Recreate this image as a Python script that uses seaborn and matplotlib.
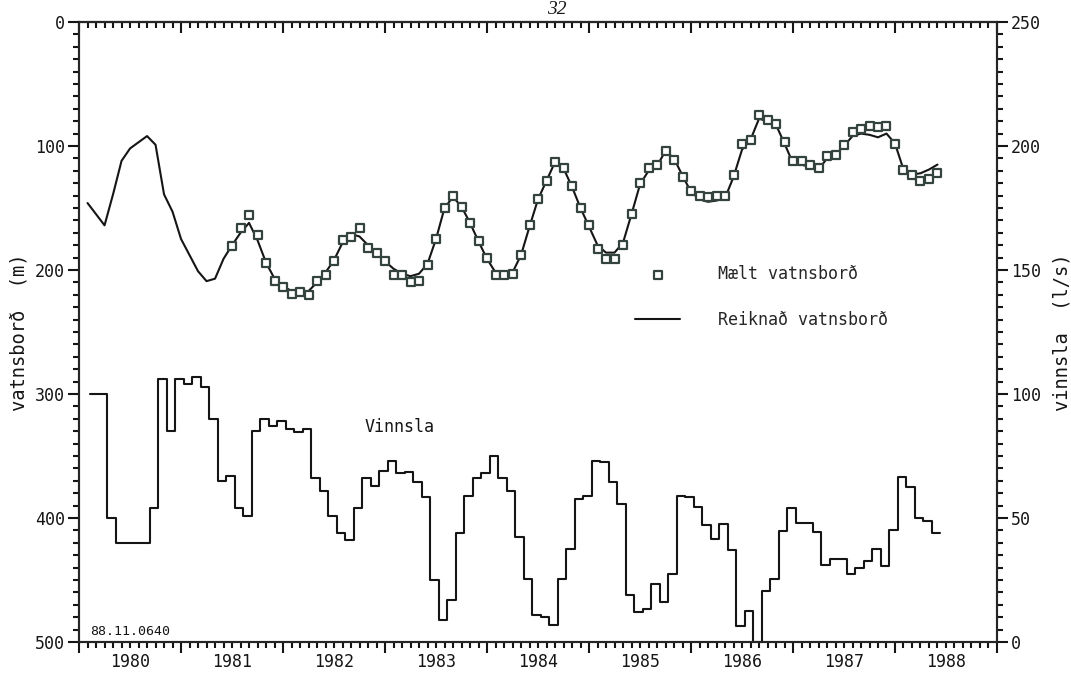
import numpy as np
import pandas as pd
import matplotlib
matplotlib.use('Agg')
import matplotlib.pyplot as plt
import seaborn as sns
from matplotlib.ticker import MultipleLocator

# Manudir taldir fra januar 1980
maelt_manudir = list(range(18, 102))
maelt_vatnsbord = [181, 166, 156, 172, 194, 209, 214, 219, 218, 220,
                   209, 204, 193, 176, 173, 166, 182, 186, 193, 204,
                   204, 210, 209, 196, 175, 150, 140, 149, 162, 177,
                   190, 204, 204, 203, 188, 164, 143, 128, 113, 118,
                   132, 150, 164, 183, 191, 191, 180, 155, 130, 118,
                   115, 104, 111, 125, 136, 140, 141, 140, 140, 123,
                   98, 95, 75, 79, 82, 97, 112, 112, 115, 118,
                   108, 107, 99, 89, 86, 84, 85, 84, 98, 119,
                   123, 128, 127, 122]

reiknad_manudir = list(range(1, 102))
reiknad_vatnsbord = [146, 155, 164, 139, 112, 102, 97, 92, 99, 139,
                     153, 175, 188, 201, 209, 207, 191, 180, 170, 162,
                     176, 194, 207, 213, 217, 218, 217, 210, 202, 192,
                     178, 171, 173, 180, 187, 193, 199, 203, 205, 203,
                     195, 175, 150, 141, 149, 162, 177, 191, 202, 205,
                     202, 188, 165, 143, 128, 113, 118, 133, 150, 165,
                     180, 186, 186, 178, 155, 131, 120, 116, 104, 110,
                     124, 137, 143, 145, 144, 142, 125, 103, 95, 78,
                     80, 83, 98, 114, 115, 117, 119, 110, 107, 100,
                     92, 90, 91, 93, 90, 98, 119, 123, 122, 119,
                     115]

# manadarleg vinnsla (l/s), hver tala gildir i einn manud
vinnsla_manudir = list(range(1, 101))
vinnsla = [100, 100, 50, 40, 40, 40, 40, 54, 106, 85,
           106, 104, 107, 103, 90, 65, 67, 54, 51, 85,
           90, 87, 89, 86, 84.5, 86, 66, 61, 51, 44,
           41, 54, 66, 63, 69, 73, 68, 68.5, 64.5, 58.5,
           25, 9, 17, 44, 59, 66, 68, 75, 66, 61,
           42.5, 25.5, 11, 10, 7, 25.5, 37.5, 57.5, 59, 73,
           72.5, 64.5, 55.5, 19, 12, 13.3, 23.4, 16.3, 27.4, 59,
           58.3, 54.4, 47, 41.5, 47.5, 37, 6.5, 12.5, 0, 20.6,
           25.4, 44.8, 53.9, 47.9, 47.9, 44.4, 31, 33.5, 33.5, 27.3,
           29.7, 32.7, 37.4, 30.6, 45.2, 66.7, 62.4, 49.9, 48.8, 44.1]
vinnsla_hlidrun = 0.3  # manudir byrja adeins eftir manadamotum

ar = list(range(1980, 1989))

df_maelt = pd.DataFrame({'t': 1980 + np.array(maelt_manudir) / 12, 'h': maelt_vatnsbord})
df_reikn = pd.DataFrame({'t': 1980 + np.array(reiknad_manudir) / 12, 'h': reiknad_vatnsbord})
t_v = list(vinnsla_manudir) + [vinnsla_manudir[-1] + 1]
df_vinn = pd.DataFrame({'t': 1980 + (np.array(t_v) + vinnsla_hlidrun) / 12,
                        'q': vinnsla + [vinnsla[-1]]})

sns.set_style('ticks')
plt.rcParams['font.family'] = ['DejaVu Sans Mono', 'DejaVu Sans']
plt.rcParams['axes.linewidth'] = 1.5

lit = '#151515'
punkt = '#34433d'

fig = plt.figure(figsize=(10.71, 6.89), dpi=100)
ax = fig.add_axes([0.0738, 0.0682, 0.8571, 0.8999])

sns.lineplot(data=df_reikn, x='t', y='h', ax=ax, color=lit, linewidth=1.5,
             estimator=None, sort=False, label='Reiknað vatnsborð')
sns.scatterplot(data=df_maelt, x='t', y='h', ax=ax, marker='s', s=30,
                facecolor='white', edgecolor=punkt, linewidth=1.6,
                label='Mælt vatnsborð', zorder=3)

ax.set_xlim(1980, 1989)
ax.set_ylim(500, 0)
ax.yaxis.set_major_locator(MultipleLocator(100))
ax.yaxis.set_minor_locator(MultipleLocator(10))
ax.xaxis.set_major_locator(MultipleLocator(1))
ax.xaxis.set_minor_locator(MultipleLocator(1 / 12))
ax.tick_params(axis='both', which='major', direction='out', length=8, width=1.5,
               labelsize=12, pad=2, colors=lit)
ax.tick_params(axis='both', which='minor', direction='out', length=4.5, width=1.5, colors=lit)
ax.tick_params(axis='x', labelbottom=False)
ax.set_xlabel('')
ax.set_ylabel('vatnsborð  (m)', fontsize=13.5, color=lit)
ax.yaxis.set_label_coords(-0.055, 0.5)

# efri as: strik inn a vid
sec_top = ax.secondary_xaxis('top')
sec_top.xaxis.set_major_locator(MultipleLocator(1))
sec_top.xaxis.set_minor_locator(MultipleLocator(1 / 12))
sec_top.tick_params(which='major', direction='in', length=8, width=1.5, labeltop=False, colors=lit)
sec_top.tick_params(which='minor', direction='in', length=4.5, width=1.5, colors=lit)

# artol a midju hvers ars
sec_bot = ax.secondary_xaxis('bottom')
sec_bot.set_xticks([a + 0.5 for a in ar], labels=[str(a) for a in ar])
sec_bot.tick_params(length=0, pad=8, labelsize=12, colors=lit)
sec_bot.spines['bottom'].set_visible(False)

ax2 = ax.twinx()
sns.lineplot(data=df_vinn, x='t', y='q', ax=ax2, color=lit, linewidth=1.5,
             estimator=None, sort=False, drawstyle='steps-post')
ax2.set_ylim(0, 250)
ax2.yaxis.set_major_locator(MultipleLocator(50))
ax2.yaxis.set_minor_locator(MultipleLocator(5))
ax2.tick_params(which='major', direction='out', length=8, width=1.5, labelsize=12, pad=2, colors=lit)
ax2.tick_params(which='minor', direction='out', length=4.5, width=1.5, colors=lit)
ax2.set_ylabel('vinnsla  (l/s)', fontsize=13.5, color=lit)
ax2.yaxis.set_label_coords(1.061, 0.5)
ax2.set_xlim(1980, 1989)

h, l = ax.get_legend_handles_labels()
order = [l.index('Mælt vatnsborð'), l.index('Reiknað vatnsborð')]
ax.legend([h[i] for i in order], [l[i] for i in order], loc='upper left',
          bbox_to_anchor=(0.6057, 0.608), frameon=False, fontsize=12,
          handlelength=2.7, handletextpad=2.3, labelspacing=1.65,
          borderpad=0, borderaxespad=0)

ax.text(0.3115, 0.347, 'Vinnsla', transform=ax.transAxes, fontsize=12,
        ha='left', va='center', color=lit)
ax.text(0.012, 0.006, '88.11.0640', transform=ax.transAxes, fontsize=9.5,
        ha='left', va='bottom', color=lit)
fig.text(0.52, 0.999, '32', ha='center', va='top', fontsize=14,
         fontstyle='italic', family='Liberation Serif', color=lit)

fig.savefig('out.png', dpi=100)
